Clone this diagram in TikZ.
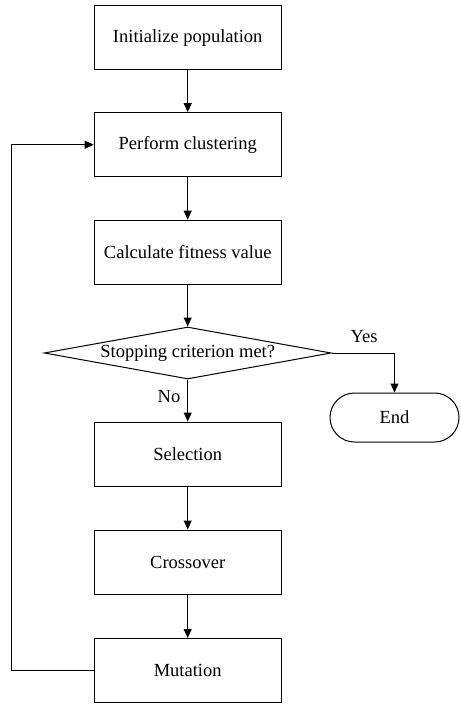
\documentclass[tikz,border=0pt]{standalone}
\usepackage{fontspec}
\setmainfont{Liberation Serif}
\usetikzlibrary{shapes.geometric,shapes.misc,arrows.meta}
\begin{document}
\begin{tikzpicture}[x=1pt,y=-1pt,
  every node/.style={font=\fontsize{18.5}{22}\selectfont},
  procbox/.style={draw,line width=1pt,rectangle,minimum width=187pt,minimum height=64pt,inner sep=0pt},
  decbox/.style={draw,line width=1pt,diamond,aspect=5.5,minimum width=287pt,minimum height=52pt,inner sep=0pt},
  endbox/.style={draw,line width=1pt,rounded rectangle,minimum width=129pt,minimum height=49pt,inner sep=0pt},
  conn/.style={line width=1pt,-{Triangle[length=9pt,width=8pt]}},
  lbl/.style={inner sep=0pt}]
\useasboundingbox (0,0) rectangle (460,706);
\node[procbox] (init) at (187.7,38) {Initialize population};
\node[procbox] (clust) at (187.7,144.7) {Perform clustering};
\node[procbox] (fit) at (187.7,252.2) {Calculate fitness value};
\node[decbox] (stop) at (187.7,353) {Stopping criterion met?};
\node[endbox] (end) at (394.5,417.5) {End};
\node[procbox] (sel) at (187.7,454) {Selection};
\node[procbox] (cross) at (187.7,562) {Crossover};
\node[procbox] (mut) at (187.7,670.5) {Mutation};
\node[lbl] (yes) at (364,337) {Yes};
\node[lbl] (no) at (169,397) {No};
\coordinate (loopb) at (11,670.5);
\coordinate (loopt) at (11,144.7);
\draw[conn] (init) -- (clust);
\draw[conn] (clust) -- (fit);
\draw[conn] (fit) -- (stop);
\draw[conn] (stop) -- (sel);
\draw[conn] (sel) -- (cross);
\draw[conn] (cross) -- (mut);
\draw[conn] (stop.east) -| (end.north);
\draw[conn] (mut.west) -- (loopb) -- (loopt) -- (clust.west);
\end{tikzpicture}
\end{document}
